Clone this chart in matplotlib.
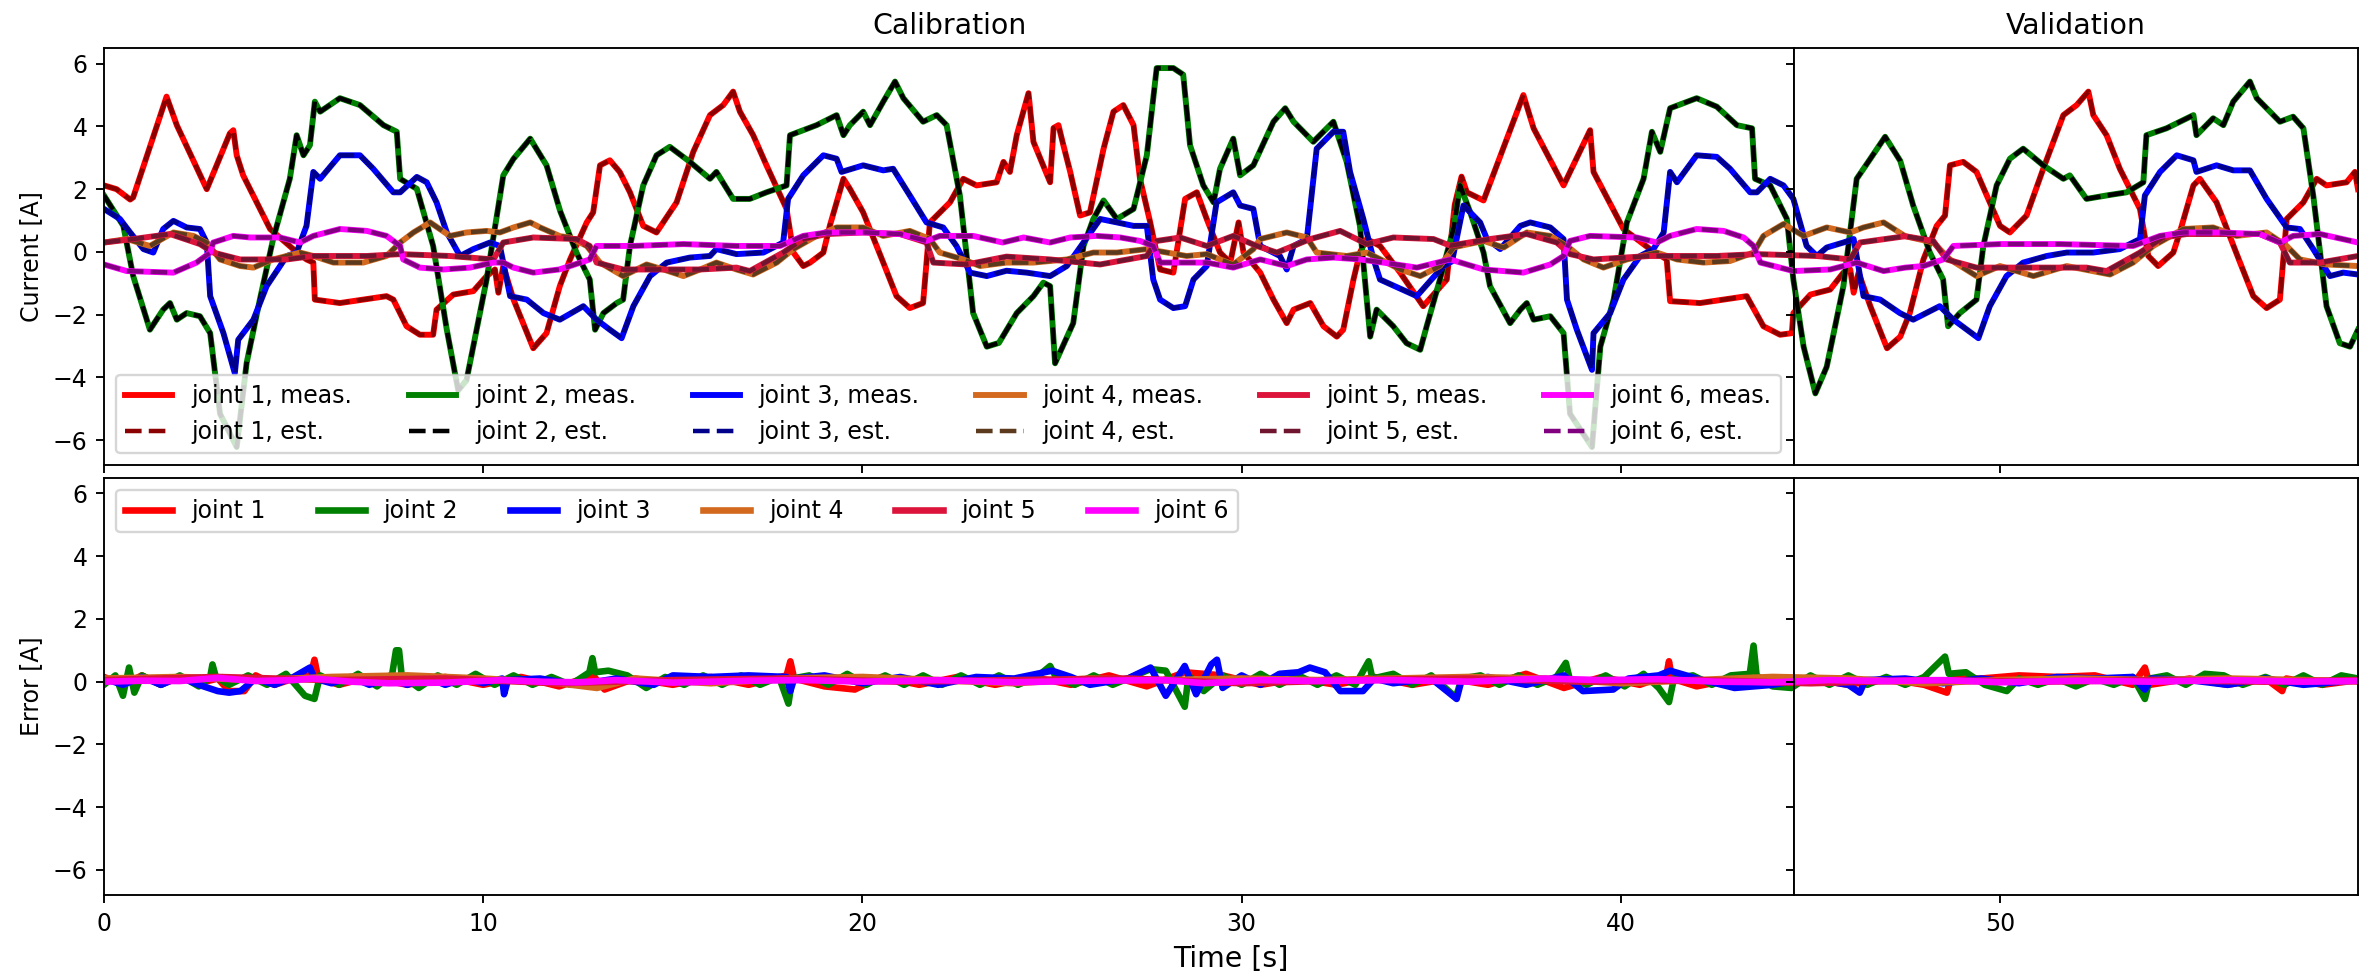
import numpy as np
import matplotlib
matplotlib.use('Agg')
import matplotlib.pyplot as plt

# time where calibration ends / validation ends [s]
T_SPLIT = 44.57
T_END = 59.44

joint1 = [(0.0, 2.12), (0.33, 2.0), (0.69, 1.67), (0.77, 1.74), (1.65, 4.95), (1.92, 4.04), (2.71, 2.0), (3.32, 3.78),
          (3.41, 3.88), (3.5, 3.08), (3.67, 2.44), (4.38, 0.73), (4.99, 0.09), (5.34, -0.24), (5.52, -0.34), (5.56, -1.52),
          (6.22, -1.63), (7.45, -1.41), (7.63, -1.52), (7.98, -2.37), (8.33, -2.64), (8.68, -2.64), (8.77, -1.84),
          (9.21, -1.36), (9.74, -1.25), (10.09, -0.77), (10.31, -0.56), (10.4, -1.3), (10.53, -0.45), (10.8, -1.52),
          (11.32, -3.07), (11.67, -2.59), (12.02, -1.09), (12.29, -0.24), (12.73, 0.94), (12.9, 1.26), (13.08, 2.76),
          (13.34, 2.92), (13.6, 2.55), (13.87, 1.9), (14.22, 0.83), (14.57, 0.62), (15.1, 1.58), (15.54, 3.19),
          (15.98, 4.36), (16.33, 4.68), (16.59, 5.11), (16.77, 4.47), (17.12, 3.72), (17.47, 2.76), (18.0, 1.37),
          (18.18, -0.02), (18.44, -0.45), (18.62, -0.34), (18.97, -0.02), (19.14, 0.83), (19.5, 2.33), (19.67, 2.01),
          (20.02, 1.26), (20.55, -0.34), (20.9, -1.41), (21.25, -1.79), (21.6, -1.63), (21.78, 0.94), (22.31, 1.58),
          (22.66, 2.33), (23.01, 2.12), (23.54, 2.22), (23.72, 2.87), (23.89, 2.55), (24.07, 3.72), (24.38, 5.06),
          (24.51, 3.51), (24.95, 2.22), (25.04, 3.95), (25.17, 4.04), (25.3, 3.4), (25.48, 2.55), (25.74, 1.16),
          (26.0, 1.26), (26.36, 3.29), (26.62, 4.47), (26.88, 4.68), (27.15, 4.04), (27.32, 2.33), (27.59, 0.94),
          (27.85, -0.56), (28.2, -0.66), (28.51, 1.69), (28.82, 1.9), (29.08, 1.05), (29.43, -0.02), (29.7, -0.34),
          (29.92, 0.94), (30.05, -0.02), (30.49, -0.66), (30.84, -1.52), (31.19, -2.27), (31.37, -1.84), (31.81, -1.63),
          (32.16, -2.37), (32.51, -2.7), (32.68, -2.48), (32.95, -0.88), (33.12, -0.02), (33.3, 0.41), (33.65, 0.19),
          (34.18, -0.66), (34.79, -1.73), (35.41, -0.88), (35.62, 1.5), (35.8, 2.4), (35.94, 1.9), (36.38, 1.64),
          (37.43, 5.0), (37.7, 3.94), (38.49, 2.12), (39.19, 3.88), (39.28, 2.55), (40.07, 0.73), (40.77, 0.09),
          (41.21, -0.24), (41.3, -1.57), (42.09, -1.63), (43.32, -1.41), (43.76, -2.37), (44.2, -2.64), (44.51, -2.59),
          (44.55, -1.95), (45.0, -1.36), (45.52, -1.2), (45.87, -0.66), (46.05, -0.56), (46.14, -1.3), (46.27, -0.66),
          (46.58, -1.73), (47.02, -3.07), (47.37, -2.7), (47.62, -1.95), (47.98, -0.24), (48.33, 0.83), (48.55, 1.16),
          (48.68, 2.76), (49.03, 2.87), (49.38, 2.55), (49.73, 1.58), (50.0, 0.83), (50.26, 0.62), (50.7, 1.16),
          (51.14, 2.65), (51.67, 4.36), (52.02, 4.68), (52.33, 5.11), (52.46, 4.36), (52.81, 3.72), (53.16, 2.65),
          (53.69, 1.37), (53.91, -0.13), (54.17, -0.45), (54.57, -0.02), (54.74, 0.62), (55.1, 2.12), (55.27, 2.33),
          (55.71, 1.58), (56.33, -0.34), (56.68, -1.41), (57.03, -1.79), (57.38, -1.52), (57.56, 1.05), (58.0, 1.58),
          (58.35, 2.33), (58.61, 2.12), (59.14, 2.22), (59.36, 2.55), (59.44, 2.0)]

joint2 = [(0.0, 1.8), (0.51, 0.83), (0.77, -0.77), (1.21, -2.48), (1.56, -1.84), (1.74, -1.63), (1.92, -2.16),
          (2.18, -1.95), (2.53, -2.05), (2.8, -2.59), (3.06, -5.16), (3.5, -6.22), (3.76, -3.55), (4.11, -1.52),
          (4.46, 0.41), (4.9, 2.33), (5.08, 3.72), (5.26, 3.08), (5.43, 3.4), (5.56, 4.79), (5.7, 4.47), (6.22, 4.9),
          (6.75, 4.68), (7.37, 4.04), (7.72, 3.83), (7.81, 2.33), (8.25, 2.01), (8.68, 0.19), (9.04, -2.48),
          (9.34, -4.41), (9.56, -4.09), (10.09, -0.88), (10.53, 2.44), (10.8, 2.97), (11.24, 3.61), (11.67, 2.76),
          (12.03, 1.3), (12.46, -0.02), (12.81, -0.88), (12.95, -2.48), (13.17, -1.95), (13.52, -1.63), (13.69, -1.52),
          (13.87, 0.19), (14.22, 2.12), (14.57, 3.08), (14.92, 3.35), (15.45, 2.87), (15.98, 2.33), (16.15, 2.55),
          (16.59, 1.69), (17.03, 1.69), (17.47, 1.9), (18.0, 2.12), (18.09, 3.72), (18.79, 4.04), (19.32, 4.36),
          (19.5, 3.72), (19.67, 4.04), (20.02, 4.47), (20.2, 4.04), (20.55, 4.79), (20.86, 5.43), (21.08, 4.9),
          (21.6, 4.15), (21.96, 4.36), (22.22, 4.04), (22.57, 1.8), (22.92, -1.95), (23.28, -3.02), (23.6, -2.9),
          (24.07, -1.95), (24.51, -1.41), (24.77, -0.98), (24.95, -1.09), (25.08, -3.55), (25.56, -2.27), (25.83, 0.19),
          (26.09, 1.05), (26.36, 1.64), (26.71, 1.05), (27.15, 1.37), (27.5, 3.08), (27.76, 5.86), (28.2, 5.86),
          (28.46, 5.65), (28.64, 3.4), (28.99, 2.12), (29.26, 1.58), (29.43, 2.65), (29.78, 3.61), (29.96, 2.44),
          (30.31, 2.76), (30.84, 4.15), (31.15, 4.58), (31.37, 4.15), (31.89, 3.51), (32.42, 4.15), (32.77, 2.87),
          (33.12, 0.83), (33.39, -2.7), (33.56, -1.84), (34.0, -2.37), (34.35, -2.91), (34.71, -3.12), (34.88, -2.37),
          (35.23, -0.88), (35.6, 0.8), (35.76, 2.12), (36.03, 1.26), (36.38, -0.02), (36.55, -1.09), (37.08, -2.27),
          (37.35, -1.84), (37.52, -1.63), (37.7, -2.16), (38.14, -2.05), (38.49, -2.59), (38.66, -5.16), (39.24, -6.22),
          (39.46, -3.02), (39.81, -1.52), (40.16, 0.94), (40.6, 2.33), (40.82, 3.83), (41.04, 3.19), (41.3, 4.58),
          (42.0, 4.9), (42.53, 4.63), (43.06, 4.04), (43.46, 3.94), (43.54, 2.33), (43.94, 2.12), (44.38, 1.05),
          (44.55, -0.88), (44.82, -3.02), (45.13, -4.51), (45.43, -3.66), (45.87, -1.09), (46.22, 2.33), (46.58, 2.97),
          (46.97, 3.67), (47.37, 2.9), (47.71, 1.48), (48.15, -0.02), (48.5, -0.88), (48.63, -2.37), (48.94, -1.95),
          (49.38, -1.52), (49.56, 0.19), (49.91, 2.12), (50.26, 2.97), (50.61, 3.29), (51.14, 2.76), (51.67, 2.33),
          (51.84, 2.44), (52.28, 1.69), (52.81, 1.8), (53.34, 1.9), (53.78, 2.22), (53.86, 3.72), (54.39, 3.94),
          (55.1, 4.36), (55.18, 3.72), (55.62, 4.26), (55.89, 4.04), (56.15, 4.79), (56.59, 5.43), (56.77, 4.9),
          (57.38, 4.15), (57.73, 4.31), (58.0, 3.94), (58.26, 1.8), (58.61, -1.73), (58.96, -2.91), (59.23, -3.02),
          (59.44, -2.48)]

joint3 = [(0.0, 1.37), (0.42, 1.05), (0.69, 0.62), (1.04, 0.09), (1.3, -0.02), (1.56, 0.73), (1.83, 0.99), (2.18, 0.78),
          (2.53, 0.73), (2.71, 0.3), (2.8, -1.41), (3.15, -2.59), (3.45, -3.87), (3.54, -2.8), (3.94, -2.16),
          (4.29, -1.09), (4.82, -0.13), (5.08, -0.02), (5.34, 0.83), (5.52, 2.55), (5.7, 2.33), (6.22, 3.08),
          (6.75, 3.08), (7.1, 2.65), (7.63, 1.9), (7.81, 1.9), (8.25, 2.39), (8.51, 2.22), (8.77, 1.58), (9.04, 0.62),
          (9.39, -0.13), (9.74, 0.09), (10.18, 0.3), (10.44, 0.19), (10.71, -1.41), (11.15, -1.52), (11.59, -1.95),
          (12.02, -2.16), (12.64, -1.73), (12.99, -2.16), (13.34, -2.48), (13.65, -2.75), (13.96, -1.73), (14.4, -0.77),
          (14.84, -0.34), (15.45, -0.18), (15.98, -0.13), (16.15, 0.09), (16.68, -0.07), (17.39, -0.02), (17.91, 0.3),
          (18.04, 1.69), (18.44, 2.44), (18.97, 3.08), (19.32, 2.97), (19.45, 2.55), (20.02, 2.76), (20.55, 2.6),
          (20.81, 2.65), (21.25, 1.8), (21.69, 0.94), (22.13, 0.78), (22.48, 0.19), (22.84, -0.66), (23.28, -0.77),
          (23.8, -0.6), (24.33, -0.66), (24.95, -0.77), (25.39, -0.45), (25.83, 0.3), (26.27, 1.05), (26.71, 0.94),
          (27.15, 0.83), (27.5, 0.83), (27.67, -0.88), (27.85, -1.52), (28.2, -1.79), (28.51, -1.73), (28.73, -0.88),
          (29.08, -0.45), (29.34, 1.58), (29.78, 1.9), (29.96, 1.48), (30.31, 1.37), (30.49, 0.19), (31.01, -0.13),
          (31.19, -0.56), (31.37, 0.19), (31.72, 0.41), (31.98, 3.29), (32.42, 3.83), (32.68, 3.83), (32.86, 2.55),
          (33.21, 1.05), (33.48, -0.24), (33.65, -0.88), (34.62, -1.41), (35.32, -0.45), (35.55, -0.3), (35.85, 1.48),
          (36.29, 0.94), (36.47, 0.41), (36.82, 0.09), (37.35, 0.83), (37.61, 0.94), (38.14, 0.78), (38.49, 0.41),
          (38.58, -1.52), (38.84, -2.48), (39.24, -3.76), (39.28, -2.59), (39.72, -1.95), (40.07, -0.88), (40.51, -0.13),
          (40.86, 0.09), (41.13, 0.62), (41.3, 2.55), (41.48, 2.22), (42.0, 3.08), (42.53, 3.03), (42.88, 2.65),
          (43.41, 1.9), (43.59, 1.9), (43.94, 2.33), (44.29, 2.12), (44.55, 1.69), (44.9, 0.19), (45.17, -0.13),
          (45.43, 0.14), (45.87, 0.3), (46.14, 0.41), (46.4, -1.41), (46.84, -1.52), (47.36, -1.95), (47.71, -2.16),
          (48.41, -1.73), (48.77, -2.16), (49.43, -2.75), (49.73, -1.73), (50.17, -0.77), (50.61, -0.34), (51.23, -0.13),
          (51.76, -0.02), (52.46, -0.02), (53.16, 0.09), (53.69, 0.41), (53.82, 1.8), (54.22, 2.55), (54.66, 3.08),
          (55.1, 2.92), (55.18, 2.55), (55.71, 2.76), (56.15, 2.6), (56.59, 2.6), (57.03, 1.69), (57.56, 0.78),
          (57.91, 0.73), (58.26, 0.09), (58.7, -0.77), (59.05, -0.66), (59.44, -0.72)]

joint4 = [(0.0, 0.3), (0.6, 0.41), (1.21, 0.19), (1.83, 0.62), (2.36, 0.51), (2.71, 0.3), (3.06, -0.24), (3.59, -0.45),
          (3.94, -0.5), (4.46, -0.24), (5.17, -0.02), (5.52, -0.13), (6.05, -0.34), (6.84, -0.34), (7.45, -0.13),
          (7.81, 0.3), (8.16, 0.62), (8.6, 0.94), (9.12, 0.51), (9.56, 0.62), (10.09, 0.67), (10.44, 0.62), (10.8, 0.78),
          (11.24, 0.94), (11.5, 0.78), (12.03, 0.5), (12.29, 0.46), (12.73, 0.19), (13.08, -0.34), (13.69, -0.77),
          (14.31, -0.4), (14.75, -0.56), (15.28, -0.77), (15.72, -0.56), (16.15, -0.34), (16.68, -0.56), (17.12, -0.72),
          (17.74, -0.34), (18.18, 0.09), (18.79, 0.51), (19.32, 0.78), (20.02, 0.78), (20.55, 0.51), (21.25, 0.67),
          (21.78, 0.41), (22.04, -0.02), (22.66, -0.24), (23.1, -0.45), (23.8, -0.34), (24.51, -0.34), (25.39, -0.24),
          (26.09, -0.02), (26.71, -0.02), (27.5, 0.09), (28.03, -0.02), (28.55, -0.13), (29.08, -0.07), (29.43, -0.24),
          (29.78, -0.4), (30.31, 0.09), (30.49, 0.41), (31.19, 0.62), (31.72, 0.46), (31.98, -0.02), (32.77, -0.13),
          (33.3, -0.02), (33.83, -0.34), (34.18, -0.56), (34.71, -0.77), (35.23, -0.45), (35.6, 0.15), (36.38, 0.35),
          (36.91, 0.14), (37.52, 0.62), (38.14, 0.51), (38.58, 0.19), (39.02, -0.24), (39.54, -0.5), (40.16, -0.24),
          (40.95, -0.02), (41.48, -0.24), (42.18, -0.34), (42.88, -0.29), (43.5, -0.02), (43.76, 0.51), (44.29, 0.89),
          (44.82, 0.51), (45.43, 0.78), (46.05, 0.62), (46.4, 0.78), (46.93, 0.94), (47.5, 0.5), (48.24, 0.3),
          (48.68, -0.24), (49.38, -0.77), (50.0, -0.45), (50.88, -0.77), (51.76, -0.45), (52.9, -0.72), (53.51, -0.34),
          (54.04, 0.19), (54.83, 0.73), (55.62, 0.78), (56.24, 0.51), (57.03, 0.62), (57.56, 0.19), (57.91, -0.24),
          (58.61, -0.4), (59.44, -0.45)]

joint5 = [(0.0, 0.3), (0.77, 0.41), (1.74, 0.57), (2.53, 0.25), (2.88, -0.02), (3.59, -0.24), (4.82, -0.24),
          (5.52, -0.13), (6.93, -0.13), (7.81, -0.07), (9.12, -0.13), (10.27, -0.24), (10.53, 0.3), (11.32, 0.46),
          (12.46, 0.41), (12.81, 0.19), (12.99, -0.34), (13.69, -0.56), (14.66, -0.56), (15.72, -0.56), (16.68, -0.5),
          (17.03, -0.61), (17.91, -0.02), (18.44, 0.41), (19.06, 0.57), (20.02, 0.62), (20.99, 0.57), (21.69, 0.3),
          (21.87, -0.34), (22.75, -0.4), (23.8, -0.15), (24.95, -0.24), (26.27, -0.4), (27.5, -0.13), (27.76, 0.35),
          (28.38, 0.46), (29.08, 0.19), (29.78, 0.51), (30.4, 0.19), (30.93, -0.02), (31.81, 0.41), (32.6, 0.67),
          (33.3, 0.25), (34.0, 0.46), (35.06, 0.41), (35.5, 0.2), (36.55, 0.41), (37.52, 0.57), (38.31, 0.3),
          (38.66, -0.07), (39.28, -0.24), (40.77, -0.13), (42.53, -0.13), (43.59, -0.07), (45.17, -0.13), (46.05, -0.24),
          (46.31, 0.3), (47.5, 0.5), (48.24, 0.35), (48.59, -0.24), (49.38, -0.5), (50.88, -0.5), (52.28, -0.5),
          (52.81, -0.61), (53.69, -0.02), (54.3, 0.46), (54.92, 0.57), (55.8, 0.57), (56.85, 0.57), (57.38, 0.3),
          (57.64, -0.34), (58.44, -0.34), (59.44, -0.13)]

joint6 = [(0.0, -0.4), (0.6, -0.61), (1.83, -0.66), (2.44, -0.34), (2.8, -0.02), (2.88, 0.3), (3.41, 0.51), (3.85, 0.46),
          (4.64, 0.46), (5.17, 0.3), (5.52, 0.51), (6.22, 0.73), (6.93, 0.67), (7.45, 0.51), (7.81, 0.19), (7.89, -0.24),
          (8.33, -0.5), (8.95, -0.56), (9.65, -0.5), (10.27, -0.34), (10.53, -0.34), (10.8, -0.5), (11.32, -0.66),
          (12.0, -0.56), (12.29, -0.45), (12.81, -0.24), (12.99, 0.19), (13.96, 0.19), (15.28, 0.25), (16.68, 0.19),
          (17.83, 0.19), (18.44, 0.51), (19.06, 0.62), (20.11, 0.62), (20.99, 0.57), (21.69, 0.35), (22.04, 0.51),
          (22.92, 0.51), (23.7, 0.3), (24.25, 0.46), (24.95, 0.3), (25.48, 0.46), (26.18, 0.51), (26.8, 0.46),
          (27.32, 0.35), (27.67, 0.19), (27.85, -0.34), (28.55, -0.34), (29.08, -0.34), (29.78, -0.5), (30.49, -0.24),
          (31.19, -0.45), (31.72, -0.24), (32.42, -0.18), (33.12, -0.24), (33.74, -0.34), (34.62, -0.5), (35.5, -0.24),
          (36.38, -0.56), (37.43, -0.66), (38.14, -0.4), (38.49, -0.13), (38.66, 0.35), (39.19, 0.51), (40.42, 0.46),
          (40.95, 0.3), (41.3, 0.51), (42.0, 0.73), (42.71, 0.67), (43.24, 0.46), (43.5, 0.19), (43.68, -0.34),
          (44.55, -0.61), (45.52, -0.56), (46.22, -0.34), (46.93, -0.61), (47.5, -0.5), (47.98, -0.45), (48.5, -0.24),
          (48.77, 0.19), (50.0, 0.25), (51.58, 0.25), (53.51, 0.19), (54.22, 0.51), (54.83, 0.62), (55.8, 0.62),
          (56.85, 0.57), (57.38, 0.3), (57.73, 0.51), (58.44, 0.57), (59.44, 0.3)]

# estimation error meas - est [A]
err1 = [(0.0, 0.15), (0.5, -0.1), (1.0, 0.2), (1.5, -0.1), (2.0, 0.15), (2.5, -0.05), (3.0, 0.1), (3.3, -0.3),
        (3.7, -0.3), (4.0, 0.2), (4.5, -0.1), (5.0, 0.1), (5.45, 0.2), (5.55, 0.7), (5.65, 0.1), (6.2, -0.1),
        (7.0, 0.15), (8.0, -0.1), (9.0, 0.15), (10.0, -0.1), (11.0, 0.15), (12.0, -0.15), (12.9, 0.2), (13.2, -0.25),
        (14.0, 0.1), (15.0, -0.1), (16.0, 0.15), (17.0, -0.1), (18.0, 0.2), (18.1, 0.65), (18.2, 0.1), (19.0, -0.15),
        (19.8, -0.25), (20.5, 0.15), (21.5, -0.1), (22.5, 0.15), (23.5, -0.1), (24.5, 0.15), (25.5, -0.1),
        (26.5, 0.2), (27.5, -0.15), (28.5, 0.3), (29.5, 0.2), (30.5, -0.1), (31.5, 0.1), (32.5, -0.1), (33.5, 0.15),
        (34.5, -0.1), (35.5, 0.1), (36.5, -0.1), (37.5, 0.25), (38.5, -0.2), (39.5, 0.15), (40.5, -0.1), (41.2, 0.2),
        (41.27, 0.65), (41.35, 0.1), (42.0, -0.15), (43.0, 0.1), (44.0, -0.1), (45.0, 0.1), (46.0, -0.1), (47.0, 0.1),
        (48.0, -0.1), (48.6, -0.35), (48.7, 0.1), (49.5, 0.1), (50.5, 0.2), (51.5, 0.15), (52.5, 0.2), (53.5, -0.1),
        (53.82, 0.45), (53.95, -0.1), (55.0, 0.1), (56.0, -0.1), (57.0, 0.1), (57.44, -0.3), (57.55, 0.1),
        (58.5, -0.1), (59.44, 0.05)]

err2 = [(0.0, -0.1), (0.3, 0.2), (0.5, -0.45), (0.66, 0.45), (0.8, -0.35), (1.0, 0.2), (1.5, -0.1), (2.0, 0.2),
        (2.5, -0.15), (2.8, 0.15), (2.86, 0.55), (2.95, 0.15), (3.3, -0.1), (3.8, 0.2), (4.3, -0.1), (4.8, 0.25),
        (5.3, -0.45), (5.55, -0.55), (5.7, 0.2), (6.2, -0.1), (6.7, 0.25), (7.2, -0.15), (7.6, 0.25), (7.7, 1.0),
        (7.78, 1.0), (7.85, 0.2), (8.3, -0.2), (8.8, 0.2), (9.3, -0.1), (9.8, 0.25), (10.3, -0.1), (10.8, 0.2),
        (11.3, -0.1), (11.8, 0.15), (12.3, -0.1), (12.8, 0.3), (12.88, 0.75), (12.95, 0.3), (13.3, 0.35),
        (13.8, 0.2), (14.3, -0.2), (14.8, 0.15), (15.3, -0.1), (15.8, 0.2), (16.3, -0.1), (16.8, 0.2), (17.3, -0.1),
        (17.8, 0.15), (18.05, -0.7), (18.15, 0.1), (18.6, 0.2), (19.1, -0.1), (19.6, 0.25), (20.1, -0.1), (20.6, 0.2),
        (21.1, -0.1), (21.6, 0.2), (22.1, -0.1), (22.6, 0.2), (23.1, -0.1), (23.6, 0.2), (24.1, -0.1), (24.6, 0.15),
        (24.95, 0.5), (25.1, 0.15), (25.6, -0.1), (26.1, 0.2), (26.6, -0.1), (27.1, 0.15), (27.6, 0.4), (28.0, 0.35),
        (28.5, -0.8), (28.6, 0.2), (29.0, -0.3), (29.5, 0.2), (30.0, -0.1), (30.5, 0.25), (31.0, -0.1), (31.5, 0.2),
        (32.0, -0.1), (32.5, 0.2), (33.0, -0.1), (33.35, 0.65), (33.45, 0.1), (34.0, 0.25), (34.5, -0.1), (35.0, 0.2),
        (35.65, -0.5), (35.8, 0.1), (36.3, 0.2), (36.8, -0.1), (37.3, 0.2), (37.8, -0.1), (38.3, 0.15), (38.55, 0.6),
        (38.65, 0.1), (39.1, -0.1), (39.6, 0.2), (40.1, -0.15), (40.6, 0.25), (41.0, -0.2), (41.27, -0.65),
        (41.4, 0.1), (41.9, 0.2), (42.4, -0.1), (42.9, 0.2), (43.4, 0.25), (43.5, 1.15), (43.58, 0.2), (44.0, -0.15),
        (44.5, -0.2), (45.0, 0.2), (45.5, -0.1), (46.0, 0.2), (46.5, -0.1), (47.0, 0.15), (47.5, -0.1), (48.0, 0.15),
        (48.55, 0.8), (48.65, 0.25), (49.1, 0.3), (49.6, -0.1), (50.18, -0.3), (50.5, 0.1), (51.0, -0.1), (51.5, 0.1),
        (52.0, -0.15), (52.5, 0.1), (53.0, -0.1), (53.5, 0.15), (53.82, -0.55), (53.95, 0.1), (54.4, 0.2),
        (54.9, -0.1), (55.4, 0.25), (55.9, 0.2), (56.4, -0.1), (57.0, 0.15), (57.5, -0.1), (58.0, 0.2), (58.5, -0.1),
        (59.0, 0.2), (59.44, 0.1)]

err3 = [(0.0, 0.1), (0.5, -0.1), (1.0, 0.15), (1.5, -0.1), (2.0, 0.15), (2.5, -0.1), (3.0, -0.3), (3.3, -0.35),
        (3.6, -0.3), (4.0, 0.1), (4.5, -0.1), (5.0, 0.15), (5.43, 0.45), (5.55, 0.1), (6.0, -0.05), (6.5, 0.15),
        (7.0, -0.1), (7.5, 0.1), (8.0, -0.1), (8.5, 0.15), (9.0, -0.1), (9.5, 0.1), (10.0, -0.05), (10.5, 0.1),
        (10.55, -0.4), (10.65, 0.05), (11.5, 0.1), (12.5, -0.1), (13.5, 0.1), (14.5, -0.1), (15.0, 0.2),
        (16.0, 0.15), (17.0, 0.2), (18.0, 0.15), (18.1, -0.3), (18.2, 0.1), (19.0, 0.2), (20.0, -0.05), (21.0, 0.15),
        (22.0, -0.1), (23.0, 0.15), (24.0, 0.1), (25.0, 0.35), (25.5, 0.15), (26.0, -0.1), (27.0, 0.1), (27.6, 0.45),
        (28.0, -0.45), (28.5, 0.5), (28.8, -0.4), (29.2, 0.55), (29.35, 0.7), (29.5, -0.2), (30.0, 0.2),
        (30.5, -0.1), (31.0, 0.25), (31.5, 0.3), (31.8, 0.45), (32.2, 0.3), (32.6, -0.3), (33.2, -0.3), (33.5, 0.1),
        (34.0, -0.05), (35.0, 0.1), (35.67, -0.55), (35.8, 0.05), (36.5, 0.15), (37.5, -0.1), (38.5, 0.2),
        (39.0, -0.3), (39.8, -0.25), (40.2, 0.1), (41.0, 0.2), (41.3, 0.35), (42.0, 0.1), (43.0, -0.2), (44.0, -0.1),
        (45.0, 0.1), (46.0, -0.1), (46.3, -0.35), (46.45, 0.05), (47.5, 0.1), (48.5, -0.05), (49.5, 0.1),
        (50.5, -0.05), (51.5, 0.15), (52.5, 0.1), (53.5, 0.15), (53.82, -0.25), (54.0, 0.1), (55.0, 0.05),
        (56.0, -0.1), (57.0, 0.1), (58.0, -0.1), (59.44, 0.05)]

err4 = [(0.0, 0.1), (2.0, 0.15), (4.0, 0.05), (6.0, 0.15), (8.0, 0.2), (10.0, 0.1), (12.0, -0.05), (13.0, -0.2),
        (14.0, 0.1), (16.0, -0.05), (18.0, 0.1), (20.0, 0.15), (22.0, 0.05), (24.0, -0.05), (26.0, 0.1), (28.0, 0.05),
        (30.0, 0.1), (32.0, 0.05), (34.0, 0.1), (36.0, 0.15), (38.0, 0.1), (40.0, -0.05), (42.0, 0.05), (44.0, 0.15),
        (46.0, 0.1), (48.0, -0.05), (50.0, 0.05), (52.0, 0.1), (54.0, 0.05), (56.0, 0.1), (58.0, 0.05), (59.44, 0.0)]

err5 = [(0.0, 0.05), (3.0, 0.15), (6.0, 0.05), (9.0, 0.1), (12.0, -0.05), (15.0, 0.05), (18.0, 0.1), (21.0, 0.0),
        (24.0, 0.05), (27.0, 0.1), (30.0, -0.05), (33.0, 0.05), (36.0, 0.1), (39.0, 0.0), (42.0, 0.05), (45.0, -0.05),
        (48.0, 0.05), (51.0, 0.0), (54.0, 0.05), (57.0, 0.0), (59.44, 0.05)]

err6 = [(0.0, 0.0), (1.0, 0.03), (2.0, 0.02), (3.0, 0.12), (4.0, 0.02), (5.0, 0.05), (5.5, 0.1), (6.5, 0.0),
        (7.5, -0.05), (9.0, -0.03), (10.5, 0.05), (11.5, 0.0), (12.5, -0.02), (13.5, 0.05), (15.0, -0.03),
        (17.0, 0.03), (18.5, 0.05), (20.0, 0.0), (22.0, 0.05), (24.0, -0.02), (26.0, 0.03), (28.0, 0.05),
        (29.0, -0.05), (30.5, 0.05), (32.0, 0.02), (34.0, 0.05), (36.0, 0.0), (38.0, 0.1), (39.5, 0.05), (41.0, 0.08),
        (42.5, 0.0), (44.0, -0.02), (45.5, 0.05), (47.0, 0.02), (48.5, 0.05), (50.0, -0.02), (52.0, 0.03),
        (54.0, 0.0), (56.0, 0.05), (58.0, 0.0), (59.44, 0.02)]

joints = [joint1, joint2, joint3, joint4, joint5, joint6]
errors = [err1, err2, err3, err4, err5, err6]
meas_colors = ['red', 'green', 'blue', 'chocolate', 'crimson', 'magenta']
est_colors = ['darkred', 'black', 'darkblue', '#5c3a1e', '#701530', 'purple']

W, H, DPI = 2376, 978, 170
fig = plt.figure(figsize=(W / DPI, H / DPI), dpi=DPI)
gs = fig.add_gridspec(2, 2, width_ratios=[T_SPLIT, T_END - T_SPLIT],
                      left=104 / W, right=2358 / W, top=1 - 48 / H, bottom=1 - 895 / H,
                      wspace=0, hspace=0.03)
ax_cal = fig.add_subplot(gs[0, 0])
ax_val = fig.add_subplot(gs[0, 1], sharey=ax_cal)
ax_ecal = fig.add_subplot(gs[1, 0], sharex=ax_cal, sharey=ax_cal)
ax_eval = fig.add_subplot(gs[1, 1], sharex=ax_val, sharey=ax_cal)

for ax in (ax_cal, ax_val):
    for i in range(6):
        t, v = np.array(joints[i]).T
        ax.plot(t, v, color=meas_colors[i], lw=2.5, label='joint %d, meas.' % (i + 1))
        ax.plot(t, v, '--', color=est_colors[i], lw=1.9, label='joint %d, est.' % (i + 1))

for ax in (ax_ecal, ax_eval):
    for i in range(6):
        t, e = np.array(errors[i]).T
        ax.plot(t, e, color=meas_colors[i], lw=2.8, label='joint %d' % (i + 1))

ax_cal.set_ylim(-6.8, 6.5)
ax_cal.set_yticks([-6, -4, -2, 0, 2, 4, 6])
ax_cal.set_xlim(0, T_SPLIT)
ax_cal.set_xticks([0, 10, 20, 30, 40])
ax_val.set_xlim(T_SPLIT, T_END)
ax_val.set_xticks([50])

ax_cal.tick_params(labelbottom=False)
ax_val.tick_params(labelbottom=False, labelleft=False)
ax_eval.tick_params(labelleft=False)

ax_cal.set_title('Calibration', fontsize=12)
ax_val.set_title('Validation', fontsize=12)
ax_cal.set_ylabel('Current [A]')
ax_ecal.set_ylabel('Error [A]')

ax_cal.legend(loc='lower left', ncol=6, columnspacing=2.4)
ax_ecal.legend(loc='upper left', ncol=6, columnspacing=2.2)

fig.text((104 + 2358) / 2 / W, 1 - 959 / H, 'Time [s]', ha='center', va='center', fontsize=12)

fig.savefig('out.png', dpi=DPI)
